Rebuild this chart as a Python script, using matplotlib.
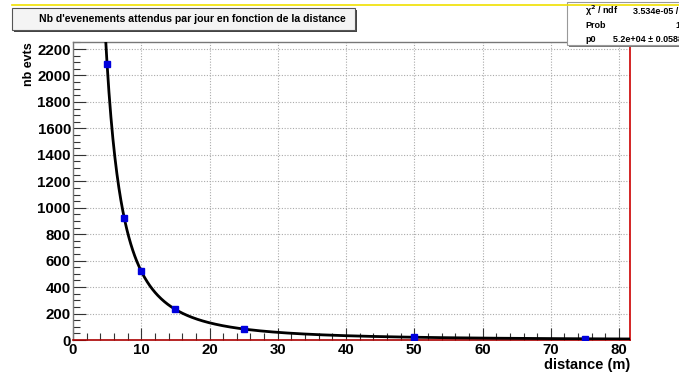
import numpy as np
import matplotlib
matplotlib.use("Agg")
import matplotlib.pyplot as plt
from matplotlib.patches import Rectangle
from matplotlib.lines import Line2D
from matplotlib.ticker import MultipleLocator

plt.rcParams['font.family'] = ['Liberation Sans', 'DejaVu Sans']
plt.rcParams['font.weight'] = 'bold'

distance = [5, 7.5, 10, 15, 25, 50, 75]
events = [2090, 925, 520, 231, 83, 21, 9]
p0 = 5.2e4
title = "Nb d'evenements attendus par jour en fonction de la distance"
xlabel = "distance (m)"
ylabel = "nb evts"
stats_rows = [("\u03c7$^2$ / ndf", "3.534e-05 / 6"), ("Prob", "1"), ("p0", "5.2e+04 \u00b1 0.05888")]

fig = plt.figure(figsize=(6.79, 3.74), dpi=100)
W, H = 679, 374
def fx(px): return px / W
def fy(py): return 1 - py / H

ax = fig.add_axes([fx(73), fy(340), fx(630) - fx(73), fy(42) - fy(340)])
xmax, ymax = 81.6, 2253
ax.set_xlim(0, xmax)
ax.set_ylim(0, ymax)

xs = np.linspace(4.3, xmax, 800)
ys = p0 / xs**2
ax.plot(xs, ys, color='black', lw=2, zorder=3)
ax.plot(distance, events, 's', color='#0000dd', ms=4.5, zorder=4)

ax.xaxis.set_major_locator(MultipleLocator(10))
ax.xaxis.set_minor_locator(MultipleLocator(2))
ax.yaxis.set_major_locator(MultipleLocator(200))
ax.yaxis.set_minor_locator(MultipleLocator(50))
ax.tick_params(which='both', direction='in', top=False, right=False, colors='#333333')
ax.tick_params(which='major', length=9, labelsize=10.8, labelcolor='black', width=0.8)
ax.tick_params(axis='x', which='major', pad=2)
ax.tick_params(axis='y', which='major', pad=1.5)
ax.tick_params(which='minor', length=5, width=0.8)
for lab in ax.get_xticklabels() + ax.get_yticklabels():
    lab.set_fontweight('bold')
ax.grid(True, which='major', color='#aaaaaa', ls=(0, (1, 1.5)), lw=0.8)
ax.set_axisbelow(True)

for s in ['top', 'left']:
    ax.spines[s].set_color('#777777')
    ax.spines[s].set_linewidth(1.0)
ax.spines['right'].set_color('#cc0000')
ax.spines['right'].set_linewidth(1.2)
ax.spines['bottom'].set_color('#aa0000')
ax.spines['bottom'].set_linewidth(1.2)

axh = fy(42) - fy(340)
axw = fx(630) - fx(73)
ax.set_xlabel(xlabel, fontsize=10.5, fontweight='bold', ha='right', va='center')
ax.xaxis.set_label_coords(1.0, (fy(365) - fy(340)) / axh)
ax.set_ylabel(ylabel, fontsize=9, fontweight='bold', ha='right', va='center')
ax.yaxis.set_label_coords((fx(29.5) - fx(73)) / axw, 1.0)

# yellow canvas line
fig.add_artist(Line2D([fx(12), 1], [fy(5), fy(5)], color='#f0e000', lw=1.2))

# title box with shadow
fig.add_artist(Rectangle((fx(14), fy(32)), fx(355) - fx(12), fy(8) - fy(30),
                         facecolor='#444444', edgecolor='none'))
fig.add_artist(Rectangle((fx(12), fy(30)), fx(355) - fx(12), fy(8) - fy(30),
                         facecolor='#f4f4f4', edgecolor='#555555', lw=0.8))
fig.text(fx(192), fy(19), title, ha='center', va='center', fontsize=7.6, fontweight='bold')

# stats box with shadow
fig.add_artist(Rectangle((fx(569), fy(47)), 0.2, fy(2) - fy(45),
                         facecolor='#777777', edgecolor='none'))
fig.add_artist(Rectangle((fx(567), fy(45)), 0.2, fy(2) - fy(45),
                         facecolor='white', edgecolor='#999999', lw=0.8))
row_y = [11, 26, 39]
val_x = [633, 675, 613]
for (k, v), yy, vx in zip(stats_rows, row_y, val_x):
    fig.text(fx(585), fy(yy), k, ha='left', va='center', fontsize=6.5, fontweight='bold')
    fig.text(fx(vx), fy(yy), v, ha='left', va='center', fontsize=6.5, fontweight='bold')

fig.savefig('out.png', dpi=100)
